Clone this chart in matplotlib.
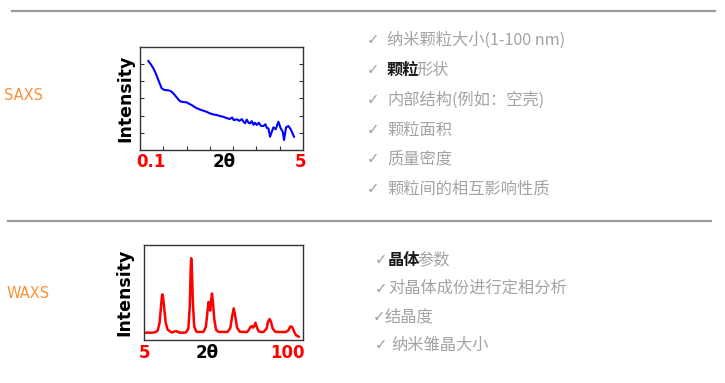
import matplotlib
matplotlib.use('Agg')
import matplotlib.pyplot as plt
from matplotlib.lines import Line2D
from matplotlib.transforms import offset_copy

plt.rcParams['font.family'] = ['Noto Sans CJK SC', 'DejaVu Sans']

# SAXS 曲线（2θ: 0.1 ~ 5）
saxs_x = [0.35, 0.43, 0.50, 0.58, 0.65, 0.70, 0.75, 0.80, 0.85, 0.92,
          1.00, 1.05, 1.10, 1.18, 1.25, 1.30, 1.35, 1.42, 1.50, 1.57,
          1.65, 1.73, 1.81, 1.90, 2.00, 2.11, 2.20, 2.30, 2.40, 2.50,
          2.60, 2.70, 2.80, 2.87, 2.92, 3.01, 3.09, 3.16, 3.21, 3.26,
          3.31, 3.36, 3.41, 3.46, 3.51, 3.55, 3.61, 3.67, 3.73, 3.81,
          3.87, 3.91, 3.96, 4.01, 4.11, 4.18, 4.26, 4.33, 4.39, 4.43,
          4.49, 4.56, 4.63, 4.73]
saxs_y = [86.4, 83.0, 79.3, 74.0, 68.0, 64.0, 60.0, 58.8, 58.3, 58.0,
          57.6, 56.5, 55.0, 52.0, 49.2, 47.5, 46.9, 46.5, 46.3, 45.0,
          43.7, 42.0, 40.5, 39.3, 38.2, 37.0, 35.6, 34.5, 34.0, 33.0,
          32.3, 31.0, 30.1, 31.5, 29.0, 29.8, 28.3, 30.0, 27.5, 26.0,
          29.5, 26.5, 25.9, 28.0, 24.5, 26.5, 24.3, 26.5, 23.5, 23.3,
          25.0, 21.5, 21.0, 12.9, 22.0, 20.1, 27.5, 21.0, 17.8, 9.7,
          22.0, 23.3, 20.1, 12.9]

# WAXS 曲线（2θ: 5 ~ 100）
waxs_x = [5.0, 9.8, 11.8, 13.2, 14.3, 15.15, 15.7, 16.0, 16.4, 17.1,
          18.0, 19.1, 20.9, 22.0, 23.5, 24.5, 26.0, 29.0, 30.1, 31.5,
          32.35, 32.9, 33.2, 33.6, 34.2, 35.0, 36.4, 40.5, 42.0, 42.8,
          43.6, 44.2, 44.6, 45.0, 45.6, 46.2, 47.0, 48.0, 49.5, 55.0,
          56.6, 57.6, 58.6, 59.5, 60.6, 62.2, 66.5, 67.6, 68.7, 69.4,
          70.2, 70.9, 71.6, 72.5, 73.6, 75.5, 76.5, 78.2, 79.1, 80.0,
          80.9, 81.9, 83.5, 89.5, 91.2, 92.2, 93.0, 93.9, 94.9, 95.9,
          97.4]
waxs_y = [7.7, 7.7, 8.2, 10.0, 18.0, 35.0, 46.0, 48.0, 45.0, 33.0,
          18.0, 11.0, 8.5, 8.0, 9.2, 9.2, 7.8, 7.7, 8.0, 12.0,
          35.0, 75.0, 86.0, 75.0, 40.0, 14.0, 8.5, 8.5, 14.0, 28.0,
          40.0, 33.0, 31.0, 40.0, 49.0, 40.0, 22.0, 11.0, 8.5, 8.5,
          13.0, 24.0, 33.3, 25.0, 13.0, 8.7, 8.3, 10.5, 14.0, 14.7,
          13.0, 15.0, 18.2, 13.0, 9.0, 8.3, 8.6, 12.0, 19.0, 22.1,
          19.0, 12.0, 8.6, 8.3, 10.0, 13.5, 14.4, 12.5, 8.0, 5.0,
          3.5]

saxs_items = ['纳米颗粒大小(1-100 nm)', ('颗粒', '形状'), '内部结构(例如：空壳)',
              '颗粒面积', '质量密度', '颗粒间的相互影响性质']
waxs_items = [('晶体', '参数'), '对晶体成份进行定相分析', '结晶度', '纳米雏晶大小']

W, H = 725, 383
fig = plt.figure(figsize=(W / 100, H / 100), dpi=100)
renderer = fig.canvas.get_renderer()

def fx(px):
    return px / W

def fy(py):
    return 1 - py / H

# 分隔线
for y, x0, x1 in [(11.3, 12, 715), (220.7, 8, 711)]:
    fig.add_artist(Line2D([fx(x0), fx(x1)], [fy(y), fy(y)], color='#979c97', lw=1.6))

orange = '#f7923a'
fig.text(fx(4), fy(96), 'SAXS', color=orange, fontsize=10.5, va='center', family='DejaVu Sans')
fig.text(fx(7), fy(293), 'WAXS', color=orange, fontsize=10.5, va='center', family='DejaVu Sans')

# SAXS 图
ax1 = fig.add_axes([fx(140), fy(150), (303 - 140) / W, (150 - 47) / H])
ax1.plot(saxs_x, saxs_y, color='#0000ff', lw=1.5)
ax1.set_xlim(0.1, 5)
ax1.set_ylim(0, 100)
ax1.set_xticks([0.1 + 4.9 * i / 7 for i in range(1, 7)])
ax1.set_yticks([100 * i / 6 for i in range(1, 6)])
ax1.tick_params(direction='in', length=3, width=0.8, top=False, right=True,
                labelbottom=False, labelleft=False, color='#333333')
ax1.set_ylabel('Intensity', fontsize=12.5, fontweight='bold', labelpad=4, family='DejaVu Sans')

# WAXS 图
ax2 = fig.add_axes([fx(144), fy(340), (303 - 144) / W, (340 - 245) / H])
ax2.plot(waxs_x, waxs_y, color='#ff0000', lw=1.8)
ax2.set_xlim(5, 100)
ax2.set_ylim(0, 100)
ax2.set_xticks([])
ax2.set_yticks([])
ax2.set_ylabel('Intensity', fontsize=12.5, fontweight='bold', labelpad=8, family='DejaVu Sans')

for ax in (ax1, ax2):
    for s in ax.spines.values():
        s.set_color('#333333')
        s.set_linewidth(1.0)

# 坐标轴标签
tick_kw = dict(fontsize=12, fontweight='bold', ha='center', va='center', family='DejaVu Sans')
fig.text(fx(150.5), fy(162.5), '0.1', color='red', **tick_kw)
fig.text(fx(224), fy(162.5), '2θ', color='black', **tick_kw)
fig.text(fx(300.5), fy(162.5), '5', color='red', **tick_kw)
fig.text(fx(144), fy(353), '5', color='red', **tick_kw)
fig.text(fx(207), fy(353), '2θ', color='black', **tick_kw)
fig.text(fx(287), fy(353), '100', color='red', **tick_kw)

# 右侧文字
fs = 11.7
gray = '#a3a3a3'
check_gray = '#a0a0a0'

def item(xc, xt, y, content):
    fig.text(fx(xc), fy(y), '✓', color=check_gray, fontsize=fs - 1, va='center', ha='right',
             family=['DejaVu Sans'])
    if isinstance(content, tuple):
        bold, rest = content
        t = fig.text(fx(xt), fy(y), bold, color='#1a1a1a', fontsize=fs, fontweight='bold', va='center')
        w = t.get_window_extent(renderer).width
        tr = offset_copy(fig.transFigure, fig=fig, x=w - 3, y=0, units='dots')
        fig.text(fx(xt), fy(y), rest, color=gray, fontsize=fs, va='center', transform=tr)
    else:
        fig.text(fx(xt), fy(y), content, color=gray, fontsize=fs, va='center')

for y, c in zip([40, 70, 100, 130, 158.5, 188.5], saxs_items):
    item(379, 387, y, c)

bottom_pos = [(387, 388), (387, 388), (385, 385), (387, 391)]
for y, (xc, xt), c in zip([260, 288.5, 317, 345], bottom_pos, waxs_items):
    item(xc, xt, y, c)

fig.savefig('out.png', dpi=100)
